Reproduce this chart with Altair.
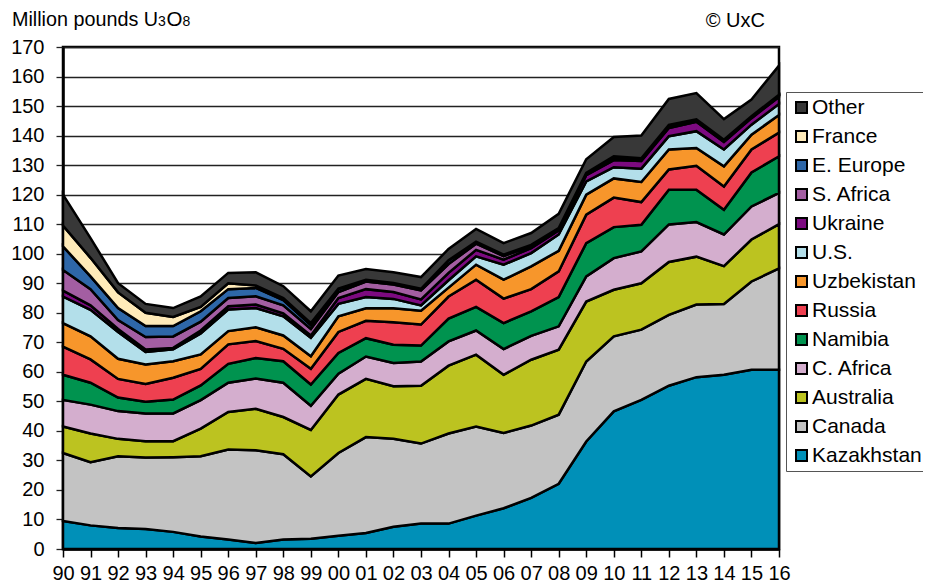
import altair as alt
import pandas as pd

years = ["90", "91", "92", "93", "94", "95", "96", "97", "98", "99",
         "00", "01", "02", "03", "04", "05", "06", "07", "08", "09",
         "10", "11", "12", "13", "14", "15", "16"]

kazakhstan = [9.5, 8.0, 7.1, 6.8, 5.8, 4.2, 3.2, 2.0, 3.2, 3.5, 4.5, 5.4, 7.5, 8.6, 8.6, 11.3, 13.8, 17.3, 22.1, 36.4, 46.6, 50.5, 55.3, 58.2, 59.0, 60.7, 60.7]
canada = [23.0, 21.4, 24.3, 24.2, 25.3, 27.2, 30.5, 31.4, 28.9, 21.1, 28.0, 32.5, 29.8, 27.1, 30.5, 30.2, 25.5, 24.5, 23.4, 27.1, 25.4, 23.8, 24.0, 24.6, 24.0, 29.9, 34.3]
australia = [9.0, 9.7, 5.9, 5.5, 5.4, 9.4, 12.7, 14.1, 12.6, 15.7, 19.8, 19.7, 17.8, 19.6, 23.0, 24.3, 19.7, 22.3, 22.0, 20.3, 15.8, 15.7, 17.9, 16.2, 12.8, 14.2, 15.0]
c_africa = [9.0, 9.8, 9.4, 9.4, 9.4, 9.6, 9.9, 10.2, 11.6, 8.2, 7.1, 7.6, 7.9, 8.2, 8.2, 8.2, 8.7, 8.1, 7.9, 8.5, 10.7, 10.8, 12.7, 11.7, 10.7, 11.2, 10.6]
namibia = [8.5, 7.4, 4.6, 4.0, 4.7, 5.0, 6.4, 7.0, 7.3, 7.2, 7.0, 6.2, 6.2, 5.4, 7.7, 8.0, 8.8, 8.3, 9.9, 11.3, 10.5, 9.0, 11.8, 11.0, 8.4, 11.5, 12.4]
russia = [9.5, 7.9, 6.3, 6.0, 7.4, 5.6, 6.6, 5.7, 4.2, 5.3, 7.1, 5.9, 7.6, 7.1, 7.5, 9.2, 8.3, 7.5, 8.7, 9.6, 10.0, 7.7, 6.8, 8.1, 7.9, 7.8, 8.0]
uzbekistan = [8.0, 7.8, 6.8, 6.6, 5.6, 4.9, 4.5, 4.7, 4.5, 4.3, 5.3, 4.2, 4.7, 4.7, 3.0, 5.1, 6.4, 7.7, 7.0, 6.8, 6.5, 6.8, 6.8, 6.0, 6.8, 5.0, 6.0]
us = [9.0, 9.0, 9.1, 4.2, 4.0, 7.1, 7.3, 6.5, 6.5, 6.2, 4.2, 3.8, 3.2, 1.8, 2.5, 2.8, 5.1, 4.5, 5.5, 4.5, 3.8, 4.5, 4.5, 5.7, 5.7, 3.4, 3.7]
ukraine = [2.0, 1.5, 1.0, 0.9, 0.5, 1.0, 1.1, 1.2, 1.0, 0.8, 2.0, 2.7, 2.3, 2.0, 2.5, 2.2, 1.7, 1.7, 1.4, 2.1, 2.4, 2.6, 2.8, 3.2, 2.6, 2.2, 2.4]
s_africa = [7.0, 5.5, 3.0, 4.2, 3.9, 3.0, 2.8, 2.8, 2.7, 2.2, 2.0, 2.6, 2.6, 3.1, 3.0, 2.1, 1.2, 0.7, 0.5, 0.5, 0.9, 0.6, 0.7, 0.5, 0.4, 0.4, 0.4]
e_europe = [8.0, 4.3, 4.1, 3.7, 3.5, 3.5, 3.0, 2.8, 1.8, 1.3, 1.0, 0.5, 0.4, 0.4, 1.2, 0.6, 0.4, 0.3, 0.2, 0.2, 0.3, 0.2, 0.2, 0.2, 0.2, 0.2, 0.2]
france = [7.0, 6.3, 5.3, 4.5, 3.1, 1.5, 2.0, 0.8, 0.7, 0.7, 0.2, 0.1, 0.1, 0.1, 0.1, 0.1, 0.1, 0.1, 0.1, 0.1, 0.1, 0.1, 0.1, 0.1, 0.1, 0.1, 0.1]
other = [10.5, 6.7, 3.1, 3.0, 3.0, 3.5, 3.5, 4.5, 4.0, 4.0, 4.4, 3.6, 3.6, 4.0, 3.8, 4.3, 3.9, 4.0, 4.8, 4.6, 6.5, 7.7, 8.8, 8.9, 7.0, 5.6, 9.9]

# bottom-to-top stacking order
stack_names = ["Kazakhstan", "Canada", "Australia", "C. Africa", "Namibia", "Russia",
               "Uzbekistan", "U.S.", "Ukraine", "S. Africa", "E. Europe", "France", "Other"]
stack_values = [kazakhstan, canada, australia, c_africa, namibia, russia,
                uzbekistan, us, ukraine, s_africa, e_europe, france, other]
stack_colors = ["#0090B8", "#C3C3C3", "#BCC320", "#D4AECE", "#00934F", "#EE4050",
                "#F7962B", "#B3DFEA", "#7C0A80", "#A35EA2", "#2E67A8", "#FFEBB9", "#383838"]

legend_order = stack_names[::-1]
legend_colors = stack_colors[::-1]

rows = []
for idx, (name, vals) in enumerate(zip(stack_names, stack_values)):
    for yr, v in zip(years, vals):
        rows.append({"year": yr, "country": name, "value": v, "idx": idx})
df = pd.DataFrame(rows)

FONT = "Liberation Sans"

area = alt.Chart(df).mark_area(
    stroke="black", strokeWidth=2.5, strokeJoin="miter", opacity=1
).encode(
    x=alt.X("year:O", sort=years,
            scale=alt.Scale(type="point", padding=0),
            axis=alt.Axis(title=None, labelAngle=0, labelFontSize=20, labelFont=FONT,
                          labelColor="black", tickSize=8, tickColor="black", tickWidth=1.5,
                          domainColor="black", domainWidth=2.5, labelPadding=6, grid=False)),
    y=alt.Y("value:Q", stack="zero",
            scale=alt.Scale(domain=[0, 170], nice=False),
            axis=alt.Axis(title=None, values=list(range(0, 171, 10)), labelFontSize=20,
                          labelFont=FONT, labelColor="black", tickSize=7, tickColor="#222",
                          tickWidth=1.3, domainColor="black", domainWidth=2.5,
                          grid=True, gridColor="#222", gridWidth=1.3, labelPadding=12)),
    color=alt.Color("country:N",
                    scale=alt.Scale(domain=legend_order, range=legend_colors),
                    legend=alt.Legend(title=None, orient="none", legendX=723, legendY=45,
                                      direction="vertical", symbolType="square",
                                      symbolSize=121, symbolStrokeColor="black",
                                      symbolStrokeWidth=2, symbolOpacity=1,
                                      labelFontSize=21, labelFont=FONT, labelColor="black",
                                      labelOffset=0, labelLimit=250, rowPadding=7,
                                      padding=5, strokeColor="#555", fillColor="white")),
    order=alt.Order("idx:Q", sort="ascending"),
)

title_parts = ["Million pounds U", "3", "O", "8"]
title_sizes = [19.75, 14, 20.5, 14]
title_x = [-51, 95, 103.5, 119.5]


def label(text, x, y, size, align="left"):
    return alt.Chart(pd.DataFrame({"t": [text]})).mark_text(
        align=align, baseline="alphabetic", font=FONT, fontSize=size, color="black"
    ).encode(x=alt.value(x), y=alt.value(y), text="t:N")


layers = [area]
for t, s, x in zip(title_parts, title_sizes, title_x):
    layers.append(label(t, x, -21, s))
layers.append(label("© UxC", 702, -20, 20, align="right"))

chart = alt.layer(*layers).properties(
    width=716, height=502,
    padding={"left": 55, "top": 39, "right": 144, "bottom": 34},
    autosize=alt.AutoSizeParams(type="none"),
    background="white",
).configure_view(stroke="black", strokeWidth=2.5)

chart.save("out.html", embed_options={"renderer": "svg", "actions": False})
